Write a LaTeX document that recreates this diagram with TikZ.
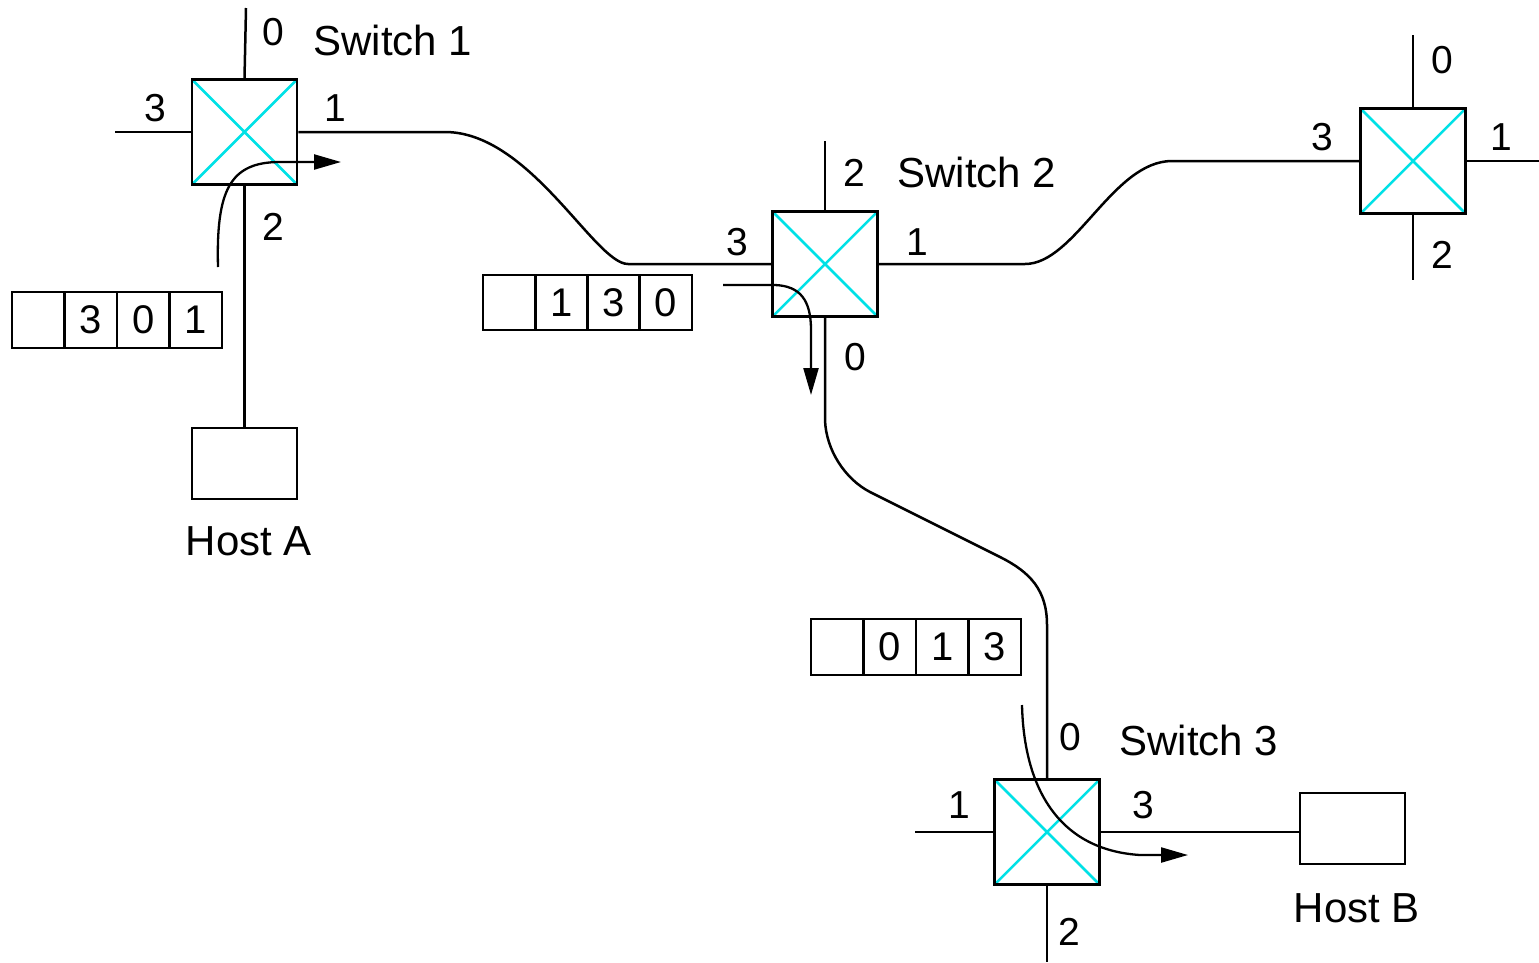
\documentclass[tikz,border=0pt]{standalone}
\usepackage{fontspec}
\setmainfont{Liberation Sans}
\usetikzlibrary{arrows.meta}
\definecolor{xcyan}{RGB}{0,225,230}
\begin{document}
\begin{tikzpicture}[x=1pt,y=-1pt,
  line width=2.5pt,
  sw/.style={draw, minimum size=105pt, inner sep=0pt,
    path picture={\draw[xcyan,line width=2.5pt]
      (path picture bounding box.north west) -- (path picture bounding box.south east)
      (path picture bounding box.south west) -- (path picture bounding box.north east);}},
  host/.style={draw, minimum width=105pt, minimum height=71pt, inner sep=0pt},
  cell/.style={draw, minimum width=52.5pt, minimum height=55pt, inner sep=0pt, font=\fontsize{40}{40}\selectfont},
  port/.style={inner sep=0pt, font=\fontsize{39}{39}\selectfont},
  title/.style={inner sep=0pt, font=\fontsize{42}{42}\selectfont},
  flow/.style={line width=2.3pt, -{Triangle[length=27pt,width=15pt]}}
]
\useasboundingbox (0,0) rectangle (1539,962);

% switches and hosts
\node[sw] (s1) at (244.5,132) {};
\node[sw] (s2) at (825,264) {};
\node[sw] (s4) at (1413,161) {};
\node[sw] (s3) at (1047,832) {};
\node[host] (ha) at (244.5,463.5) {};
\node[host] (hb) at (1352.5,828.5) {};

% free ends
\coordinate (s1p0) at (246,8);
\coordinate (s1p3) at (115,132);
\coordinate (s2p2) at (825,141);
\coordinate (s4p0) at (1413,35);
\coordinate (s4p2) at (1413,280);
\coordinate (s4p1) at (1539,161);
\coordinate (s3p1) at (915,832);
\coordinate (s3p2) at (1047,962);

% port stubs
\draw (s1.north) -- (s1p0);
\draw (s1.west) -- (s1p3);
\draw (s1.south) -- (ha.north);
\draw (s2.north) -- (s2p2);
\draw (s4.north) -- (s4p0);
\draw (s4.south) -- (s4p2);
\draw (s4.east) -- (s4p1);
\draw (s3.west) -- (s3p1);
\draw (s3.south) -- (s3p2);
\draw (s3.east) -- (s3.east -| hb.west);

% links
\draw (s1.east) -- (445,132) .. controls (530,132) and (595,264) .. (628,264) -- (s2.west);
\draw (s2.east) -- (1025,264) .. controls (1075,264) and (1113,161) .. (1172,161) -- (s4.west);
\draw (s2.south) -- (825,420) .. controls (826,450) and (845,479) .. (870,492) -- (1000,557)
  .. controls (1030,572) and (1047,590) .. (1047,625) -- (s3.north);

% flow arrows
\coordinate (f1s) at (218,267);
\coordinate (f1e) at (341,162);
\draw[flow] (f1s) .. controls (216,190) and (230,162) .. (280,162) -- (f1e);
\coordinate (f2s) at (723,285);
\coordinate (f2e) at (811,395);
\draw[flow] (f2s) -- (775,285) .. controls (800,286) and (811,300) .. (811,330) -- (f2e);
\coordinate (f3s) at (1022,705);
\coordinate (f3e) at (1188,855);
\draw[flow] (f3s) .. controls (1024,790) and (1060,850) .. (1140,855) -- (f3e);

% tables
\node[cell, minimum height=56pt] (ta0) at (38.25,320) {};
\node[cell, minimum height=56pt] (ta1) at (90.75,320) {3};
\node[cell, minimum height=56pt] (ta2) at (143.25,320) {0};
\node[cell, minimum height=56pt] (ta3) at (195.75,320) {1};

\node[cell] (tb0) at (509.1,302.5) {};
\node[cell] (tb1) at (561.4,302.5) {1};
\node[cell] (tb2) at (613.6,302.5) {3};
\node[cell] (tb3) at (665.9,302.5) {0};

\node[cell, minimum height=56pt] (tc0) at (837.25,647) {};
\node[cell, minimum height=56pt] (tc1) at (889.75,647) {0};
\node[cell, minimum height=56pt] (tc2) at (942.25,647) {1};
\node[cell, minimum height=56pt] (tc3) at (994.75,647) {3};

% labels
\node[port] (l10) at (273,32) {0};
\node[port] (l13) at (155,108) {3};
\node[port] (l11) at (335,108) {1};
\node[port] (l12) at (273,227) {2};
\node[title] (n1) at (393,40) {Switch 1};

\node[port] (l22) at (854,173) {2};
\node[title] (n2) at (977,172) {Switch 2};
\node[port] (l23) at (737,242) {3};
\node[port] (l21) at (917,242) {1};
\node[port] (l20) at (855,357) {0};

\node[port] (l40) at (1442,60) {0};
\node[port] (l43) at (1322,137) {3};
\node[port] (l41) at (1501,137) {1};
\node[port] (l42) at (1442,255) {2};

\node[port] (l30) at (1070,737) {0};
\node[title] (n3) at (1199,740) {Switch 3};
\node[port] (l31) at (959,805) {1};
\node[port] (l33) at (1143,805) {3};
\node[port] (l32) at (1069,932) {2};

\node[title] (tha) at (249,541) {Host A};
\node[title] (thb) at (1357,908) {Host B};
\end{tikzpicture}
\end{document}
